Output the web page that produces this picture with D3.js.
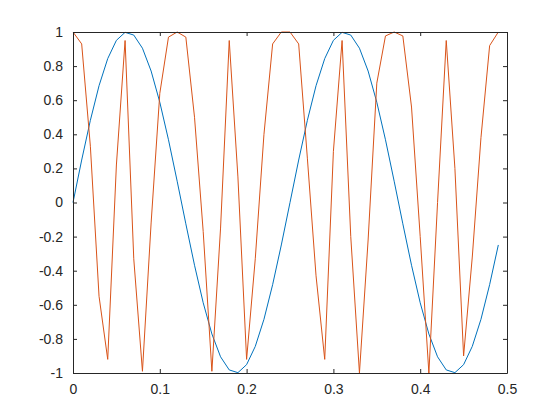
<!DOCTYPE html>
<html>
<head>
<meta charset="utf-8">
<script src="https://cdn.jsdelivr.net/npm/d3@7"></script>
<style>
  html, body { margin: 0; padding: 0; background: #ffffff; }
  svg { display: block; }
</style>
</head>
<body>
<svg id="chart" width="560" height="420"></svg>
<script>
// ---- data ----
const times = [0,0.01,0.02,0.03,0.04,0.05,0.06,0.07,0.08,0.09,
               0.10,0.11,0.12,0.13,0.14,0.15,0.16,0.17,0.18,0.19,
               0.20,0.21,0.22,0.23,0.24,0.25,0.26,0.27,0.28,0.29,
               0.30,0.31,0.32,0.33,0.34,0.35,0.36,0.37,0.38,0.39,
               0.40,0.41,0.42,0.43,0.44,0.45,0.46,0.47,0.48,0.49];

const blueValues = [0,0.249,0.482,0.685,0.844,0.951,0.998,0.982,0.905,0.771,
                    0.588,0.368,0.125,-0.125,-0.368,-0.588,-0.771,-0.905,-0.982,-0.998,
                    -0.951,-0.844,-0.685,-0.482,-0.249,0,0.249,0.482,0.685,0.844,
                    0.951,0.998,0.982,0.905,0.771,0.588,0.368,0.125,-0.125,-0.368,
                    -0.588,-0.771,-0.905,-0.982,-0.998,-0.951,-0.844,-0.685,-0.482,-0.249];

const redValues = [1,0.93,0.33,-0.55,-0.92,0.22,0.95,-0.33,-0.99,-0.12,
                   0.64,0.97,1,0.97,0.5,-0.17,-0.99,-0.15,0.95,0.15,
                   -0.92,-0.33,0.4,0.93,1,1,0.93,0.26,-0.43,-0.92,
                   0.3,0.95,-0.2,-1,-0.22,0.7,0.977,1,0.977,0.56,
                   -0.2,-1,0,0.95,0.2,-0.9,-0.32,0.38,0.92,1];

const xTicks = [0,0.1,0.2,0.3,0.4,0.5];
const xTickLabels = ["0","0.1","0.2","0.3","0.4","0.5"];
const yTicks = [-1,-0.8,-0.6,-0.4,-0.2,0,0.2,0.4,0.6,0.8,1];
const yTickLabels = ["-1","-0.8","-0.6","-0.4","-0.2","0","0.2","0.4","0.6","0.8","1"];

// ---- layout ----
const svg = d3.select("#chart");
const plotLeft = 73, plotRight = 507, plotTop = 32, plotBottom = 373;
const x = d3.scaleLinear().domain([0, 0.5]).range([plotLeft, plotRight]);
const y = d3.scaleLinear().domain([-1, 1]).range([plotBottom, plotTop]);

const axisColor = "#262626";
const fontFamily = "'Liberation Sans', Arial, Helvetica, sans-serif";
const fontSize = "14px";

// lines
const line = d3.line().x((d, i) => x(times[i])).y(d => y(d));

svg.append("path")
  .datum(blueValues)
  .attr("d", line)
  .attr("fill", "none")
  .attr("stroke", "#0072BD")
  .attr("stroke-width", 1);

svg.append("path")
  .datum(redValues)
  .attr("d", line)
  .attr("fill", "none")
  .attr("stroke", "#D95319")
  .attr("stroke-width", 1);

// axes (ticks inside, box on)
function styleAxis(g) {
  g.select(".domain").attr("stroke", axisColor).attr("stroke-width", 1);
  g.selectAll(".tick line").attr("stroke", axisColor).attr("stroke-width", 1);
  g.selectAll(".tick text")
    .attr("fill", axisColor)
    .style("font-family", fontFamily)
    .style("font-size", fontSize);
}

const xBottom = d3.axisBottom(x).tickValues(xTicks)
  .tickFormat((d, i) => xTickLabels[i]).tickSizeInner(-4).tickSizeOuter(0).tickPadding(11);
svg.append("g").attr("transform", `translate(0,${plotBottom})`).call(xBottom).call(styleAxis);

const xTop = d3.axisTop(x).tickValues(xTicks)
  .tickFormat("").tickSizeInner(-4).tickSizeOuter(0);
svg.append("g").attr("transform", `translate(0,${plotTop})`).call(xTop).call(styleAxis);

const yLeft = d3.axisLeft(y).tickValues(yTicks)
  .tickFormat((d, i) => yTickLabels[i]).tickSizeInner(-4).tickSizeOuter(0).tickPadding(10);
svg.append("g").attr("transform", `translate(${plotLeft},0)`).call(yLeft).call(styleAxis);

const yRight = d3.axisRight(y).tickValues(yTicks)
  .tickFormat("").tickSizeInner(-4).tickSizeOuter(0);
svg.append("g").attr("transform", `translate(${plotRight},0)`).call(yRight).call(styleAxis);
</script>
</body>
</html>
